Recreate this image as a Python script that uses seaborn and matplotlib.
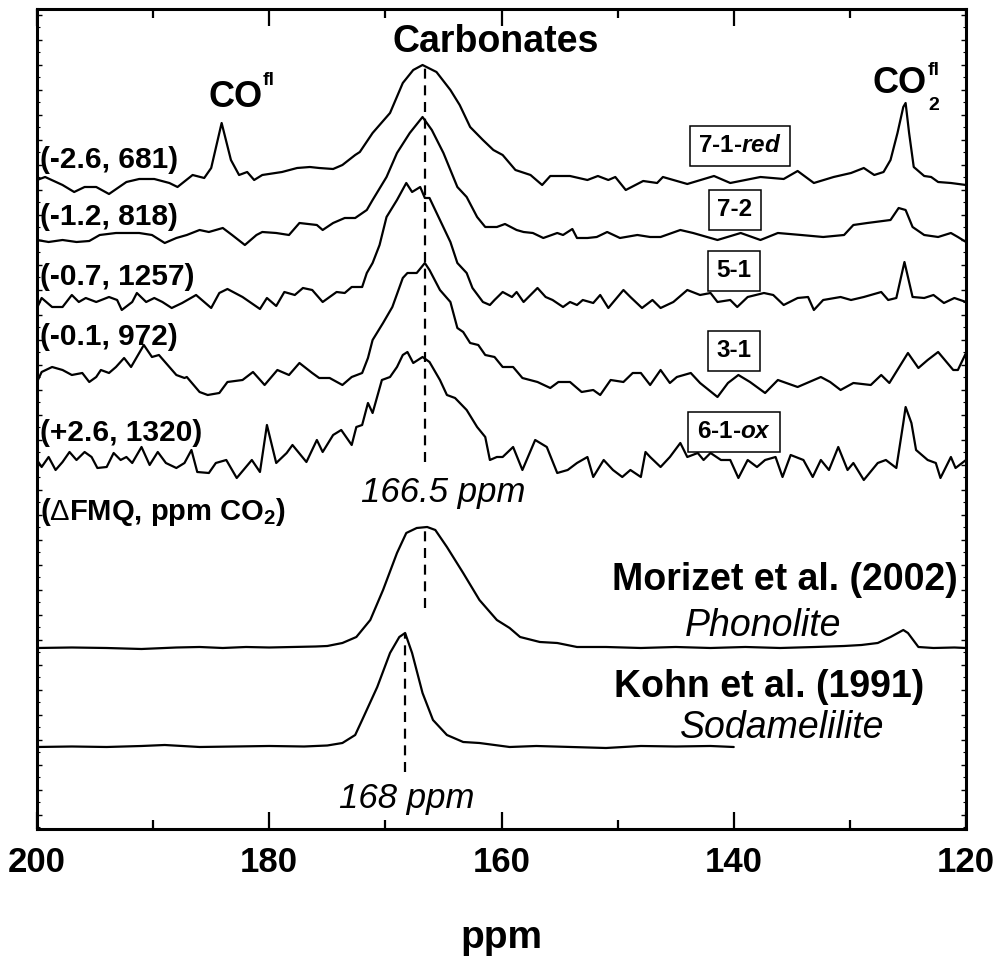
import numpy as np
import pandas as pd
import matplotlib
matplotlib.use("Agg")
import matplotlib.pyplot as plt
from matplotlib.ticker import MultipleLocator
import seaborn as sns

sns.set_style("ticks")
plt.rcParams['font.family'] = ['Liberation Sans', 'DejaVu Sans']
plt.rcParams['mathtext.fontset'] = 'custom'
plt.rcParams['mathtext.rm'] = 'Liberation Sans'
plt.rcParams['mathtext.it'] = 'Liberation Sans:italic'
plt.rcParams['mathtext.bf'] = 'Liberation Sans:bold'
plt.rcParams['mathtext.bfit'] = 'Liberation Sans:italic:bold'
for k in ['text.color', 'axes.labelcolor', 'xtick.color', 'ytick.color',
          'axes.edgecolor']:
    plt.rcParams[k] = 'black'

# ---------------- data (ppm, intensity in arbitrary units) ----------------
ppm_71red = [200.0, 199.3, 197.8, 196.8, 195.9, 194.9, 193.8, 192.3, 191.2, 189.9,
             188.6, 187.9, 186.6, 185.6, 185.0, 184.1, 183.3, 182.6, 181.9, 181.3,
             180.6, 178.9, 177.6, 176.5, 175.7, 174.5, 173.7, 172.6, 172.2, 171.1,
             169.6, 168.5, 167.6, 166.8, 165.6, 164.4, 163.6, 162.7, 161.6, 160.7,
             159.9, 158.8, 157.5, 156.5, 155.8, 154.1, 152.6, 151.7, 150.8, 150.2,
             149.3, 147.8, 146.6, 146.1, 144.0, 141.7, 140.3, 137.7, 135.7, 134.5,
             133.1, 131.4, 129.9, 128.8, 127.9, 127.1, 126.5, 125.9, 125.4, 125.2,
             124.9, 124.5, 123.6, 123.0, 122.4, 121.3, 120.0]
int_71red = [5, 8, 0, -7, -2, -2, -9, 3, 6, 6,
             2, -2, 10, 7, 17, 62, 25, 10, 13, 5,
             10, 13, 17, 18, 17, 16, 20, 30, 33, 52,
             72, 102, 115, 120, 113, 95, 80, 58, 45, 35,
             30, 15, 10, 0, 9, 9, 5, 9, 5, 8,
             -5, 4, 2, 8, 1, 9, 2, 8, 6, 14,
             2, 8, 12, 17, 10, 13, 25, 52, 78, 82,
             52, 18, 9, 8, 3, 2, 0]

ppm_72 = [200.0, 199.0, 197.8, 196.6, 195.5, 194.6, 193.2, 192.3, 191.2, 190.1,
          189.0, 188.0, 187.1, 186.0, 185.2, 184.0, 183.2, 182.1, 181.1, 180.6,
          179.4, 178.3, 177.4, 175.9, 175.4, 174.5, 173.5, 172.6, 171.6, 171.1,
          169.9, 169.0, 167.9, 166.8, 166.0, 165.0, 163.8, 163.0, 162.1, 161.4,
          160.4, 159.7, 158.7, 158.1, 157.3, 156.4, 155.2, 154.7, 153.9, 153.5,
          152.6, 151.8, 150.9, 149.8, 148.3, 147.2, 146.3, 144.6, 143.5, 141.4,
          139.4, 137.7, 136.2, 134.2, 132.3, 130.5, 129.7, 128.5, 126.5, 125.8,
          125.2, 124.6, 123.6, 122.4, 121.3, 120.7, 120.0]
int_72 = [-3, -5, -3, -5, -4, 2, 4, 4, 4, 2,
          -6, -1, 2, 7, 5, 9, 2, -8, 2, 5,
          4, 2, 14, 12, 7, 14, 19, 19, 27, 37,
          60, 84, 104, 120, 107, 84, 50, 40, 20, 10,
          10, 13, 7, 5, 4, -1, 4, 2, 8, -1,
          -1, 0, 5, -1, 2, 0, 0, 7, 4, -3,
          4, -3, 4, 2, 0, 2, 12, 14, 17, 29,
          27, 10, 2, 0, 4, 0, -5]

ppm_51 = [200.0, 199.6, 198.7, 197.8, 197.0, 196.4, 195.8, 194.9, 193.8, 193.1,
          192.7, 191.8, 191.4, 190.6, 189.9, 189.2, 188.4, 187.5, 186.3, 185.8,
          185.0, 184.3, 183.6, 182.3, 180.8, 180.2, 179.4, 178.7, 177.8, 177.1,
          176.3, 175.4, 174.2, 173.5, 172.9, 172.0, 171.6, 171.1, 170.5, 169.9,
          169.0, 168.2, 167.7, 167.0, 166.6, 166.2, 165.3, 164.4, 163.8, 163.0,
          162.5, 161.6, 161.0, 160.6, 159.9, 159.1, 158.7, 158.1, 156.9, 156.2,
          155.6, 154.7, 154.1, 153.5, 153.0, 152.1, 151.5, 150.8, 149.5, 148.9,
          147.9, 147.0, 146.3, 145.2, 144.0, 142.9, 142.0, 141.4, 140.3, 139.7,
          138.8, 137.4, 136.6, 135.7, 134.5, 133.6, 133.1, 132.3, 130.8, 129.9,
          128.8, 127.3, 126.7, 126.0, 125.3, 124.6, 123.6, 122.8, 121.9, 121.0,
          120.0]
int_51 = [-8, 2, -7, -7, 5, -2, 2, -2, 3, 0,
          -10, -2, 7, -2, 2, -2, -8, -3, 5, 0,
          -8, 7, 11, 3, -9, 2, -6, 8, 5, 12,
          10, -2, 8, 7, 13, 13, 27, 37, 55, 83,
          100, 117, 108, 113, 102, 102, 80, 58, 37, 27,
          12, -2, -5, 0, 8, 3, 8, -2, 12, 3,
          0, -7, -2, -5, 0, -3, 5, -8, 10, 3,
          -8, 0, -8, -2, 10, 5, 7, -2, 0, -7,
          3, 7, 5, -5, 2, 3, -10, 0, 3, 0,
          3, 8, 0, 2, 38, 3, 2, 5, -3, 2,
          -2]

ppm_31 = [200.0, 199.6, 198.7, 197.8, 197.0, 196.1, 195.5, 194.9, 194.5, 193.8,
          193.2, 192.5, 191.9, 190.8, 190.1, 189.5, 188.0, 187.3, 187.1, 186.0,
          185.3, 184.3, 183.6, 182.3, 181.4, 180.4, 179.3, 178.3, 177.4, 176.3,
          175.7, 174.8, 173.7, 172.9, 172.0, 171.5, 171.1, 170.2, 169.4, 168.5,
          168.1, 167.3, 166.6, 166.2, 165.3, 164.4, 163.8, 163.3, 162.7, 162.0,
          161.4, 160.6, 159.9, 159.0, 158.2, 156.9, 155.8, 155.1, 154.1, 153.1,
          152.1, 151.5, 150.6, 149.5, 148.7, 148.0, 147.2, 146.3, 145.5, 144.9,
          143.7, 142.9, 141.4, 140.5, 139.6, 138.6, 137.3, 136.2, 134.5, 132.5,
          131.7, 130.8, 129.7, 128.2, 127.3, 126.6, 125.0, 124.1, 123.3, 122.4,
          121.1, 120.7, 120.0]
int_31 = [-2, 8, 13, 10, 5, 7, -2, 3, 10, 7,
          13, 22, 13, 35, 23, 25, 5, 2, 3, -12,
          -15, -13, -2, 0, 8, -5, 10, 5, 17, 7,
          2, 2, -5, 3, 7, 22, 40, 57, 73, 102,
          107, 107, 117, 110, 90, 78, 52, 48, 37, 35,
          25, 23, 13, 13, 2, -2, -8, -2, -2, -12,
          -10, -15, 0, -2, 7, 7, -5, 10, -3, 3,
          7, -3, -17, -3, 5, -2, -13, 0, -7, 3,
          -2, -10, -3, -5, 5, -3, 27, 12, 20, 28,
          10, 10, 27]

ppm_61ox = [200.0, 199.6, 199.0, 198.4, 197.8, 197.2, 196.6, 195.9, 195.3, 194.8,
            194.0, 193.4, 192.8, 192.3, 191.8, 191.0, 190.3, 189.6, 188.9, 188.0,
            187.3, 186.7, 186.2, 185.2, 184.6, 183.7, 182.8, 181.5, 180.8, 180.2,
            179.4, 178.5, 178.0, 176.8, 175.9, 175.4, 174.5, 173.8, 172.9, 172.5,
            172.0, 171.5, 171.1, 170.3, 169.6, 169.0, 168.5, 168.1, 167.6, 166.8,
            166.2, 165.3, 164.7, 164.0, 163.0, 162.1, 161.4, 161.0, 160.4, 159.9,
            159.0, 158.2, 157.1, 156.1, 155.2, 154.3, 153.5, 152.6, 152.1, 151.2,
            150.4, 149.6, 148.9, 148.0, 147.6, 147.2, 146.3, 145.5, 144.6, 144.0,
            143.1, 142.6, 142.0, 141.1, 140.3, 139.6, 138.8, 138.0, 137.3, 136.4,
            135.8, 135.1, 134.0, 133.2, 132.5, 131.8, 131.0, 130.2, 129.7, 128.8,
            127.6, 126.9, 126.0, 125.4, 125.2, 124.7, 124.3, 123.3, 122.6, 122.2,
            121.3, 120.9, 120.0]
int_61ox = [2, -5, 5, -8, 0, 10, 2, 10, 5, -6,
            -5, 9, 2, 5, -1, 15, -3, 10, -1, -6,
            -1, 12, -10, -11, -1, 2, -16, 2, -10, 37,
            -1, 9, 17, 0, 22, 10, 27, 32, 17, 35,
            37, 59, 49, 82, 85, 95, 107, 110, 99, 105,
            100, 82, 67, 64, 52, 35, 25, 2, 5, 5,
            15, -8, 22, 15, -11, -8, -1, 5, -15, 2,
            -8, -15, -8, -15, 10, 5, -5, 5, 19, 5,
            9, 2, 9, 2, 2, -16, 2, -5, 2, 5,
            -15, 7, 2, -15, 2, -8, 15, -8, -1, -18,
            -1, 2, -6, 39, 55, 39, 12, 2, -1, -16,
            5, -6, 2]

ppm_morizet = [200.0, 197.0, 194.0, 191.0, 188.0, 186.0, 184.0, 182.0, 180.0, 178.0,
               176.0, 175.0, 173.7, 172.5, 171.3, 170.2, 169.0, 168.2, 167.3, 166.4,
               165.7, 164.7, 163.3, 161.9, 160.4, 159.3, 158.4, 156.7, 155.2, 153.5,
               151.0, 148.0, 145.0, 142.0, 139.0, 136.0, 133.0, 130.5, 129.0, 127.6,
               126.5, 125.4, 125.0, 124.1, 122.8, 121.0, 120.0]
int_morizet = [0, 0.5, 0, -1, 0.5, 1, 0, 1, 0.5, 1,
               1.5, 2, 5, 11, 28, 58, 95, 115, 120, 121,
               118, 101, 75, 48, 28, 20, 11, 6, 5, 1,
               1, 0, 1, 0, 1, 0, 1, 2, 3, 5,
               11, 18, 15, 1, 0, 0.5, 0]

ppm_kohn = [200.0, 197.0, 194.0, 191.0, 189.0, 186.0, 183.0, 180.0, 177.0, 175.0,
            173.7, 172.6, 172.0, 170.7, 169.6, 168.8, 168.3, 167.7, 166.8, 165.9,
            164.7, 163.3, 161.9, 159.3, 157.0, 154.0, 151.0, 148.0, 145.0, 142.0,
            140.0]
int_kohn = [0, 0.5, 0, 1, 2, 0, 0.5, 1, 0.5, 1.5,
            4, 12, 27, 60, 94, 110, 114, 94, 54, 27,
            12, 5, 4, 0, 1, 0, -1, 1, 0.5, 1,
            0]

samples = ["7-1-red", "7-2", "5-1", "3-1", "6-1-ox", "Morizet", "Kohn"]
series_ppm = [ppm_71red, ppm_72, ppm_51, ppm_31, ppm_61ox, ppm_morizet, ppm_kohn]
series_int = [int_71red, int_72, int_51, int_31, int_61ox, int_morizet, int_kohn]
conditions = ["(-2.6, 681)", "(-1.2, 818)", "(-0.7, 1257)", "(-0.1, 972)", "(+2.6, 1320)"]
box_labels = [r"7-1-$\mathbfit{red}$", "7-2", "5-1", "3-1", r"6-1-$\mathbfit{ox}$"]
carb_peak = 166.6     # ppm, this work / Morizet
kohn_peak = 168.3     # ppm
xticks = [200, 180, 160, 140, 120]

# vertical stacking offsets (layout)
offsets = [644, 592, 529, 449, 367, 181, 82]

rows = []
for s, xs, ys, off in zip(samples, series_ppm, series_int, offsets):
    for x, y in zip(xs, ys):
        rows.append((s, x, y + off))
df = pd.DataFrame(rows, columns=["sample", "ppm", "signal"])

fig = plt.figure(figsize=(10, 9.56), dpi=100)
ax = fig.add_axes([0.037, 0.13285, 0.929, 0.85774])

for s in samples:
    sns.lineplot(data=df[df["sample"] == s], x="ppm", y="signal", color="black",
                 lw=1.6, estimator=None, ax=ax, legend=False)

# dashed reference lines
dash = dict(color="black", lw=1.6, ls=(0, (4.5, 3)))
ax.plot([carb_peak, carb_peak], [offsets[4], offsets[0] + max(int_71red) + 3], **dash)
ax.plot([carb_peak, carb_peak], [offsets[5] + 40, offsets[5] + max(int_morizet)], **dash)
ax.plot([kohn_peak, kohn_peak], [offsets[6] - 25, offsets[6] + max(int_kohn)], **dash)

ax.set_xlim(200, 120)
ax.set_ylim(0, 820)
ax.set_xticks(xticks)
ax.xaxis.set_minor_locator(MultipleLocator(10))
ax.yaxis.set_major_locator(MultipleLocator(25, offset=14))
ax.yaxis.set_minor_locator(MultipleLocator(12.5, offset=1.5))
ax.tick_params(axis="x", which="major", direction="in", length=12, width=1.6,
               top=True, bottom=True, labelsize=25, pad=12)
ax.tick_params(axis="x", which="minor", direction="in", length=6.5, width=1.6,
               top=True, bottom=True)
ax.tick_params(axis="y", which="major", direction="in", length=3.5, width=1.0,
               left=True, right=True, labelleft=False)
ax.tick_params(axis="y", which="minor", direction="in", length=2.2, width=0.8,
               left=True, right=True)
for lab in ax.get_xticklabels():
    lab.set_fontweight("bold")
for sp in ax.spines.values():
    sp.set_linewidth(2.2)
    sp.set_visible(True)
    sp.set_color("black")
ax.set_ylabel("")
ax.set_xlabel("ppm", fontsize=28, fontweight="bold", labelpad=30)


def at(xp, yp):
    """image-pixel layout position -> axes fraction"""
    return ((xp - 37) / 929, (829 - yp) / 820)


T = ax.transAxes
ax.text(*at(496, 52), "Carbonates", transform=T, ha="center", va="baseline",
        fontsize=27, fontweight="bold")
ax.text(*at(236, 107), "CO", transform=T, ha="center", va="baseline",
        fontsize=26, fontweight="bold")
ax.text(*at(263, 85), "fl", transform=T, ha="left", va="baseline",
        fontsize=14, fontweight="bold")
ax.text(*at(900, 93), "CO", transform=T, ha="center", va="baseline",
        fontsize=26, fontweight="bold")
ax.text(*at(928, 75), "fl", transform=T, ha="left", va="baseline",
        fontsize=14, fontweight="bold")
ax.text(*at(928, 110), "2", transform=T, ha="left", va="baseline",
        fontsize=14, fontweight="bold")

for lab, yb in zip(conditions, [168, 225, 285, 345, 441]):
    ax.text(*at(40, yb), lab, transform=T, ha="left", va="baseline",
            fontsize=21.5, fontweight="bold")
ax.text(*at(40, 520), r"($\Delta$FMQ, ppm CO$_{\mathbf{2}}$)", transform=T,
        ha="left", va="baseline", fontsize=21, fontweight="bold")

for lab, (xc, yc) in zip(box_labels, [(740, 146), (735, 210), (734, 271),
                                       (734, 351), (734, 432)]):
    ax.text(*at(xc, yc), lab, transform=T, ha="center", va="center",
            fontsize=17.5, fontweight="bold",
            bbox=dict(boxstyle="square,pad=0.35", fc="white", ec="black", lw=1.1))

ax.text(*at(443, 502), "166.5 ppm", transform=T, ha="center", va="baseline",
        fontsize=25, style="italic")
ax.text(*at(407, 808), "168 ppm", transform=T, ha="center", va="baseline",
        fontsize=25, style="italic")
ax.text(*at(958, 590), "Morizet et al. (2002)", transform=T, ha="right",
        va="baseline", fontsize=27, fontweight="bold")
ax.text(*at(763, 636), "Phonolite", transform=T, ha="center", va="baseline",
        fontsize=27, style="italic")
ax.text(*at(769, 697), "Kohn et al. (1991)", transform=T, ha="center",
        va="baseline", fontsize=27, fontweight="bold")
ax.text(*at(782, 738), "Sodamelilite", transform=T, ha="center", va="baseline",
        fontsize=27, style="italic")

fig.savefig("out.png", dpi=100)
